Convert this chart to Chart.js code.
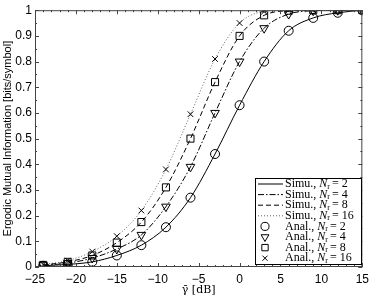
<!DOCTYPE html>
<html><head><meta charset="utf-8">
<script src="https://cdn.jsdelivr.net/npm/chart.js@4/dist/chart.umd.min.js"></script>
<style>html,body{margin:0;padding:0;background:#fff}#wrap{width:374px;height:298px}</style>
</head><body><div id="wrap"><canvas id="c" width="374" height="298"></canvas></div>
<script>
const xdB = [-24,-21,-18,-15,-12,-9,-6,-3,0,3,6,9,12,15];
const nr2  = [0.005,0.01,0.02,0.045,0.085,0.155,0.27,0.44,0.63,0.80,0.92,0.97,0.99,1.0];
const nr4  = [0.007,0.015,0.035,0.07,0.125,0.235,0.39,0.60,0.80,0.93,0.985,0.998,1.0,1.0];
const nr8  = [0.008,0.02,0.045,0.095,0.175,0.31,0.50,0.72,0.90,0.98,0.998,1.0,1.0,1.0];
const nr16 = [0.01,0.025,0.06,0.12,0.22,0.38,0.595,0.81,0.95,0.995,1.0,1.0,1.0,1.0];
const nrLabels = ['2','4','8','16'];
const xTicks = [-25,-20,-15,-10,-5,0,5,10,15];
const yTicks = [0,0.1,0.2,0.3,0.4,0.5,0.6,0.7,0.8,0.9,1];

const series = [nr2,nr4,nr8,nr16];
const dashes = [[], [6,2,1.5,2], [5,3], [1,2]];
const lineColors = ['#000','#000','#000','#666'];
const pStyles = ['circle','triangle','rect','crossRot'];
const pRot = [0,180,0,0];
const pRad = [4.5,5,5,4];

const toPts = arr => xdB.map((x,i)=>({x:x,y:arr[i]}));
const datasets = [];
series.forEach((s,k)=>{
  datasets.push({label:'Simu.', nr:nrLabels[k], kind:'line', data:toPts(s), borderColor:lineColors[k], borderWidth:1,
    borderDash:dashes[k], pointRadius:0, fill:false, cubicInterpolationMode:'monotone', showLine:true, order:2});
});
series.forEach((s,k)=>{
  datasets.push({label:'Anal.', nr:nrLabels[k], kind:'mark', data:toPts(s), showLine:false, borderColor:'#000', backgroundColor:'rgba(0,0,0,0)',
    pointStyle:pStyles[k], pointRotation:pRot[k], pointRadius:pRad[k], pointBorderWidth:1, pointHoverRadius:pRad[k], order:1});
});

const frame = {
  id:'frame',
  afterDraw(chart){
    const ctx = chart.ctx, a = chart.chartArea, xs = chart.scales.x, ys = chart.scales.y;
    ctx.save();
    ctx.strokeStyle = '#444'; ctx.lineWidth = 1;
    ctx.strokeRect(a.left+0.5, a.top+0.5, a.right-a.left-1, a.bottom-a.top-1);
    ctx.beginPath();
    for (let v=-25; v<=15; v++){
      const p = Math.round(xs.getPixelForValue(v))+0.5;
      const L = (v%5===0)?4:2;
      ctx.moveTo(p,a.bottom); ctx.lineTo(p,a.bottom-L);
      ctx.moveTo(p,a.top); ctx.lineTo(p,a.top+L);
    }
    for (let i=0;i<=20;i++){
      const v=i*0.05;
      const p = Math.round(ys.getPixelForValue(v))+0.5;
      const L = (i%2===0)?4:2;
      ctx.moveTo(a.left,p); ctx.lineTo(a.left+L,p);
      ctx.moveTo(a.right,p); ctx.lineTo(a.right-L,p);
    }
    ctx.stroke();

    // legend
    const bx=255, by=178, bw=106, bh=86;
    ctx.fillStyle='#fff'; ctx.fillRect(bx,by,bw,bh);
    ctx.strokeStyle='#000'; ctx.strokeRect(bx+0.5,by+0.5,bw,bh);
    const rowH = 10.6;
    chart.data.datasets.forEach((d,i)=>{
      const y = by+6+i*rowH;
      ctx.save();
      if (d.kind==='line'){
        ctx.strokeStyle=d.borderColor; ctx.lineWidth=1; ctx.setLineDash(d.borderDash);
        ctx.beginPath(); ctx.moveTo(258,y); ctx.lineTo(283,y); ctx.stroke();
      } else {
        ctx.strokeStyle='#000'; ctx.fillStyle='rgba(0,0,0,0)'; ctx.lineWidth=1;
        Chart.helpers.drawPoint(ctx,{pointStyle:d.pointStyle,rotation:d.pointRotation,radius:d.pointRadius*0.9,borderWidth:1},265,y);
      }
      ctx.restore();
      ctx.fillStyle='#000'; ctx.textBaseline='middle'; ctx.textAlign='left';
      let tx = 285;
      ctx.font = '12px "Liberation Serif"';
      const t1 = d.label+', ';
      ctx.fillText(t1,tx,y); tx += ctx.measureText(t1).width;
      ctx.font = 'italic 12px "Liberation Serif"';
      ctx.fillText('N',tx,y); tx += ctx.measureText('N').width;
      ctx.font = '8px "Liberation Serif"';
      ctx.fillText('r',tx,y+2.5); tx += ctx.measureText('r').width+2;
      ctx.font = '12px "Liberation Serif"';
      ctx.fillText('= '+d.nr,tx,y);
    });
    ctx.restore();
  }
};

new Chart(document.getElementById('c'),{
  type:'line',
  data:{datasets:datasets},
  options:{
    responsive:false, animation:false, devicePixelRatio:1,
    layout:{padding:{top:10,right:10.5,left:0,bottom:0}},
    plugins:{legend:{display:false},tooltip:{enabled:false}},
    elements:{line:{tension:0}},
    scales:{
      x:{type:'linear',min:-25,max:15,
        afterBuildTicks:s=>{s.ticks=xTicks.map(v=>({value:v}));},
        afterFit:s=>{s.height=31;},
        grid:{display:false,drawTicks:false}, border:{display:false},
        ticks:{padding:5,color:'#000',font:{family:'"Liberation Sans"',size:12},maxRotation:0,autoSkip:false,
          callback:v=>v<0?'\u2212'+Math.abs(v):String(v)},
        title:{display:true,text:'\u03B3\u0304 [dB]',color:'#000',font:{family:'"DejaVu Serif"',size:11},padding:{top:0,bottom:1.5}}
      },
      y:{type:'linear',min:0,max:1,
        afterBuildTicks:s=>{s.ticks=yTicks.map(v=>({value:v}));},
        afterFit:s=>{s.width=35;},
        grid:{display:false,drawTicks:false}, border:{display:false},
        ticks:{padding:3,color:'#000',font:{family:'"Liberation Sans"',size:12},autoSkip:false,
          callback:v=>String(Math.round(v*10)/10)},
        title:{display:true,text:'Ergodic Mutual Information [bits/symbol]',color:'#000',font:{family:'"Liberation Sans"',size:11},padding:{top:1.5,bottom:0}}
      }
    }
  },
  plugins:[frame]
});
</script></body></html>
